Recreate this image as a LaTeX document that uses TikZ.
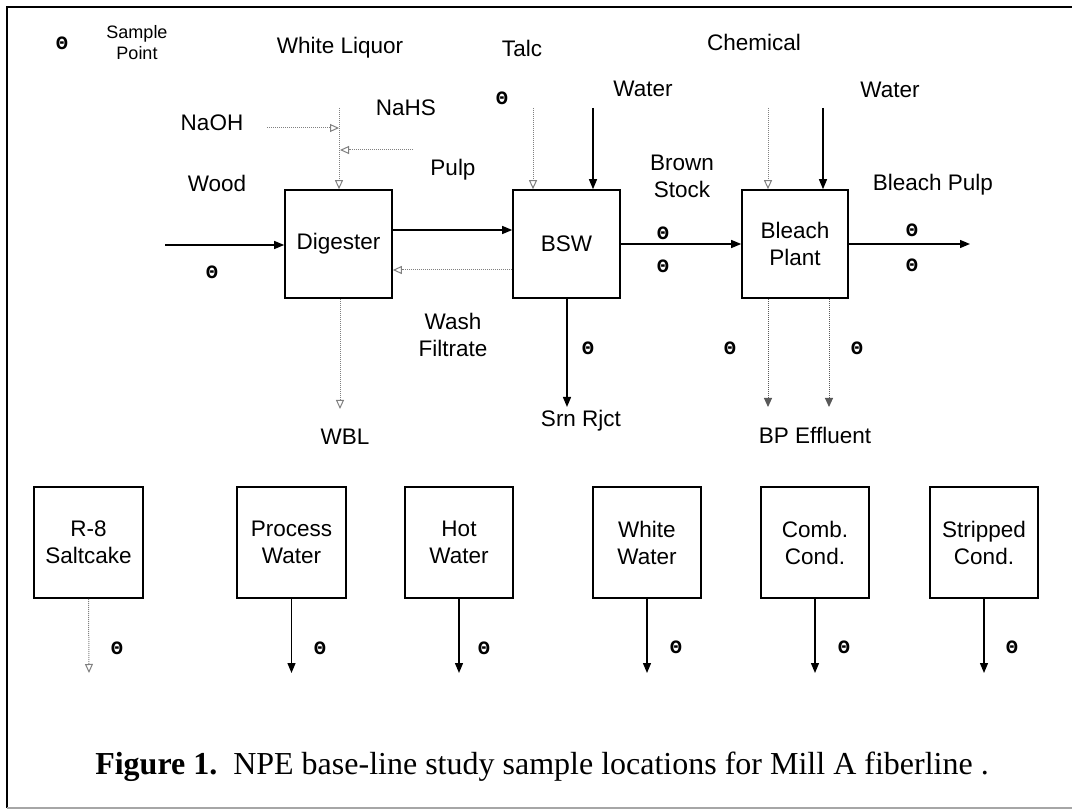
\documentclass[tikz,border=0pt]{standalone}
\usepackage{fontspec}
\setmainfont{Liberation Sans}
\newfontfamily\capfont{Liberation Serif}
\newfontfamily\thetafam{DejaVu Sans}
\usetikzlibrary{arrows.meta}
\newcommand\labfont{\fontsize{22.5}{27}\selectfont}
\newcommand\smallfont{\fontsize{18}{21}\selectfont}
\newcommand\thetafont{\thetafam\fontsize{17}{17}\selectfont\bfseries}
\newcommand\smpt{\scalebox{0.85}[1]{Θ}}
\tikzset{
  box/.style={draw, line width=1.6pt, minimum width=107pt, minimum height=108pt, align=center, font=\labfont, inner sep=0pt},
  lbl/.style={font=\labfont, align=center, inner sep=0pt},
  smp/.style={font=\thetafont, inner sep=0pt},
  flow/.style={line width=1.3pt, -{Triangle[length=10pt,width=8pt]}},
  gflow/.style={line width=1pt, gray, densely dotted, -{Triangle[open,length=9pt,width=8pt]}},
  gfflow/.style={line width=1pt, gray!70!black, densely dotted, -{Triangle[length=9pt,width=8pt]}},
}
\begin{document}
\begin{tikzpicture}[x=1pt,y=-1pt]
\useasboundingbox (0,0) rectangle (1072,810);
% frame
\draw[line width=2pt] (1072,7) -- (7,7) -- (7,808);
\draw[line width=1.5pt, gray!70] (7,808) -- (1072,808);

% legend
\node[smp] (leg) at (62,43) {\smpt};
\node[font=\smallfont, align=center, inner sep=0pt] (legt) at (137,43) {Sample\\Point};

% main boxes
\node[box] (dig) at (338.5,244) {Digester};
\node[box] (bsw) at (566.5,244) {BSW};
\node[box, minimum width=106pt] (bp) at (795,244) {Bleach\\Plant};

% labels
\node[lbl] (wl) at (340,48) {White Liquor};
\node[lbl] (talc) at (522,48) {Talc};
\node[lbl] (chem) at (754,42) {Chemical};
\node[lbl] (wat1) at (643,89) {Water};
\node[lbl] (wat2) at (890,90) {Water};
\node[lbl] (naoh) at (212,123) {NaOH};
\node[lbl] (nahs) at (406,108) {NaHS};
\node[lbl] (pulp) at (453,170) {Pulp};
\node[lbl] (brown) at (682,176.5) {Brown\\Stock};
\node[lbl] (wood) at (217,183) {Wood};
\node[lbl] (bpulp) at (933,185) {Bleach Pulp};
\node[lbl] (wash) at (453,334.5) {Wash\\Filtrate};
\node[lbl] (wbl) at (345,437) {WBL};
\node[lbl] (srn) at (581,421) {Srn Rjct};
\node[lbl] (bpe) at (815,435) {BP Effluent};

% sample points (main)
\node[smp] (s1) at (502,98) {\smpt};
\node[smp] (s2) at (212,272) {\smpt};
\node[smp] (s3) at (663,233) {\smpt};
\node[smp] (s4) at (663,266) {\smpt};
\node[smp] (s5) at (912,230) {\smpt};
\node[smp] (s6) at (912,265) {\smpt};
\node[smp] (s7) at (588,348) {\smpt};
\node[smp] (s8) at (730,348) {\smpt};
\node[smp] (s9) at (857,348) {\smpt};

% coordinates for free ends
\coordinate (wltop) at (339,108);
\coordinate (naohs) at (267,128);
\coordinate (naohe) at (339,128);
\coordinate (nahss) at (413,150);
\coordinate (nahse) at (340,150);
\coordinate (woods) at (165,245);
\coordinate (talcs) at (533,108);
\coordinate (wat1s) at (593,108);
\coordinate (chems) at (768,108);
\coordinate (wat2s) at (823,108);
\coordinate (bpout) at (970,244);
\coordinate (wble) at (340,409);
\coordinate (srne) at (567,407);
\coordinate (bpe1) at (768,407);
\coordinate (bpe2) at (829,407);

% white liquor
\draw[gflow] (wltop) -- (wltop |- dig.north);
\draw[gflow] (naohs) -- (naohe);
\draw[gflow] (nahss) -- (nahse);
% wood
\draw[flow] (woods) -- (woods -| dig.west);
% digester <-> bsw
\draw[flow] (dig.east |- 0,230) -- (bsw.west |- 0,230);
\draw[gflow] (bsw.west |- 0,270) -- (dig.east |- 0,270);
% talc, water
\draw[gflow] (talcs) -- (talcs |- bsw.north);
\draw[flow] (wat1s) -- (wat1s |- bsw.north);
% chemical, water
\draw[gflow] (chems) -- (chems |- bp.north);
\draw[flow] (wat2s) -- (wat2s |- bp.north);
% brown stock
\draw[flow] (bsw.east |- 0,244) -- (bp.west |- 0,244);
\draw[flow] (bp.east |- 0,244) -- (bpout);
% down
\draw[gflow] (wble |- dig.south) -- (wble);
\draw[flow] (srne |- bsw.south) -- (srne);
\draw[gfflow] (bpe1 |- bp.south) -- (bpe1);
\draw[gfflow] (bpe2 |- bp.south) -- (bpe2);

% bottom boxes
\node[box, minimum width=109pt, minimum height=111pt] (b1) at (88.5,542.5) {R-8\\Saltcake};
\node[box, minimum width=109pt, minimum height=111pt] (b2) at (291.5,542.5) {Process\\Water};
\node[box, minimum width=108pt, minimum height=111pt] (b3) at (459,542.5) {Hot\\Water};
\node[box, minimum width=108pt, minimum height=111pt] (b4) at (647,542.5) {White\\Water};
\node[box, minimum width=108pt, minimum height=111pt] (b5) at (815,542.5) {Comb.\\Cond.};
\node[box, minimum width=108pt, minimum height=111pt] (b6) at (984,542.5) {Stripped\\Cond.};
\coordinate (e1) at (89,673);
\coordinate (e2) at (291.5,673);
\coordinate (e3) at (459,673);
\coordinate (e4) at (647,673);
\coordinate (e5) at (815,673);
\coordinate (e6) at (984,673);
\draw[gflow] (b1.south) -- (e1);
\draw[flow] (b2.south) -- (e2);
\draw[flow] (b3.south) -- (e3);
\draw[flow] (b4.south) -- (e4);
\draw[flow] (b5.south) -- (e5);
\draw[flow] (b6.south) -- (e6);
\node[smp] (t1) at (117,648) {\smpt};
\node[smp] (t2) at (320,648) {\smpt};
\node[smp] (t3) at (484,648) {\smpt};
\node[smp] (t4) at (676,647) {\smpt};
\node[smp] (t5) at (844,647) {\smpt};
\node[smp] (t6) at (1012,647) {\smpt};

% caption
\node[font=\capfont\fontsize{32}{35}\selectfont, inner sep=0pt] (cap) at (542,767) {\textbf{Figure 1.}\ \ NPE base-line study sample locations for Mill A fiberline .};
\end{tikzpicture}
\end{document}
